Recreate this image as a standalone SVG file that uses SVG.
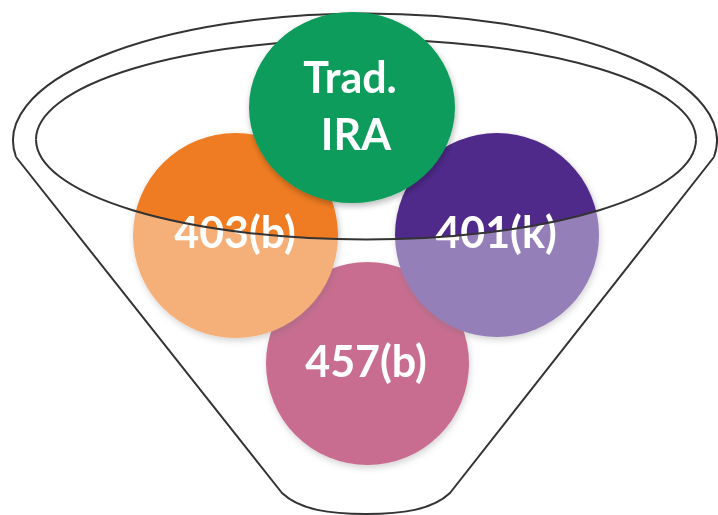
<svg xmlns="http://www.w3.org/2000/svg" width="718" height="515" viewBox="0 0 718 515">
  <defs>
    <filter id="shadow" x="-20%" y="-20%" width="140%" height="140%">
      <feDropShadow dx="1" dy="3" stdDeviation="3" flood-color="#000" flood-opacity="0.28"/>
    </filter>
  </defs>
  <style>
    .rim{fill:none;stroke:#333;stroke-width:2;stroke-linejoin:round}
    .glass{fill:#fff;fill-opacity:0.4;stroke:none}
    .label{font-family:Lato,"Open Sans","Liberation Sans",sans-serif;font-weight:700;font-size:43px;fill:#fff;text-anchor:middle}
  </style>

  <!-- funnel: back edges of the rims, drawn behind the balls -->
  <g id="funnel-back">
    <path class="rim" d="M16,157 A352 127 0 1 1 714,157"/>
    <path class="rim" d="M36,139.5 A330 100 0 0 1 696,139.5"/>
  </g>

  <!-- balls inside the funnel -->
  <g id="ball-457b" filter="url(#shadow)">
    <circle cx="367.5" cy="363.5" r="101.5" fill="#A31146"/>
    <text class="label" x="366" y="377">457(b)</text>
  </g>
  <g id="ball-403b" filter="url(#shadow)">
    <circle cx="235.5" cy="235.5" r="102.5" fill="#EF7B22"/>
    <text class="label" x="235" y="248">403(b)</text>
  </g>
  <g id="ball-401k" filter="url(#shadow)">
    <circle cx="497" cy="235" r="102" fill="#4F2B8B"/>
    <text class="label" x="496" y="248">401(k)</text>
  </g>
  <g id="ball-trad-ira" filter="url(#shadow)">
    <ellipse cx="352" cy="107.5" rx="103" ry="95.5" fill="#0F9C5B"/>
    <text class="label" x="350" y="93">Trad.</text>
    <text class="label" x="356" y="150">IRA</text>
  </g>

  <!-- funnel: translucent front wall and front edges -->
  <g id="funnel-front">
    <path class="glass" d="M36,139.5 A330 100 0 0 0 696,139.5 L714,157 L450,493 C432,510 402,514 366,514 C330,514 300,510 282,493 L16,157 Z"/>
    <path class="rim" d="M36,139.5 A330 100 0 0 0 696,139.5"/>
    <path class="rim" d="M16,157 L282,493 C300,510 330,514 366,514 C402,514 432,510 450,493 L714,157"/>
  </g>
</svg>
